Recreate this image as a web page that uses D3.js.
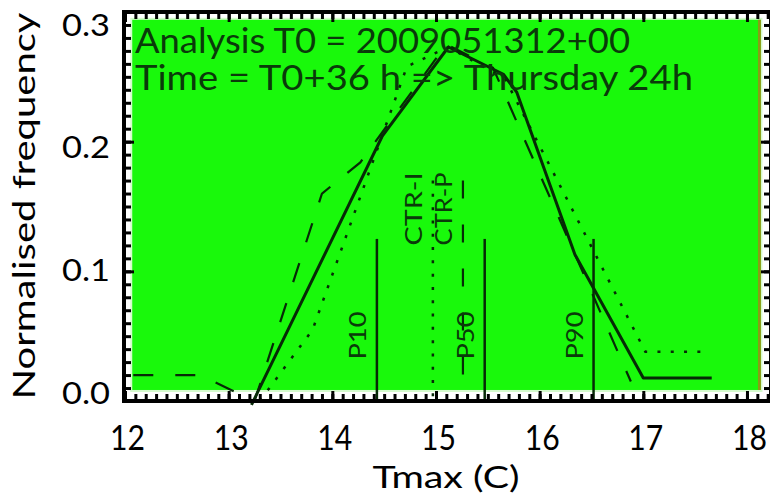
<!DOCTYPE html>
<html>
<head>
<meta charset="utf-8">
<script src="https://cdn.jsdelivr.net/npm/d3@7"></script>
<style>
  body { margin: 0; background: #fff; }
  text { font-family: Lato, "DejaVu Sans", sans-serif; font-weight: 400; }
</style>
</head>
<body>
<svg id="plot" width="770" height="499"></svg>
<script>
// tick values
const xMajor = [12, 13, 14, 15, 16, 17, 18];
const yMajor = [0.0, 0.1, 0.2, 0.3];
const xMinor = d3.range(120, 183).map(d => d / 10);
const yMinor = d3.range(0, 31).map(d => d / 100);

// frequency curves
const solidX = [13.22, 14.48, 15.12, 15.65, 15.78, 16.34, 17.0, 17.66];
const solidY = [-0.003, 0.204, 0.273, 0.252, 0.238, 0.113, 0.0177, 0.0177];
const dashX = [12.08, 12.72, 13.25, 13.9, 14.27, 15.1, 15.55, 16.88];
const dashY = [0.02, 0.02, 0.0, 0.16, 0.184, 0.275, 0.257, 0.015];
const dotX = [13.3, 13.81, 14.72, 15.12, 15.67, 17.02, 17.56];
const dotY = [0.0, 0.055, 0.258, 0.273, 0.248, 0.038, 0.038];

// percentile / control markers
const markNames = ["P10", "CTR-I", "CTR-P", "P50", "P90"];
const markX = [14.43, 14.97, 15.26, 15.47, 16.52];
const markTop = [0.125, 0.17, 0.17, 0.125, 0.125];
const markStyle = ["solid", "dot", "dash", "solid", "solid"];

const infoLines = ["Analysis T0 = 2009051312+00", "Time = T0+36 h => Thursday 24h"];

const svg = d3.select("#plot");
const ink = "#062a06";

const x = d3.scaleLinear().domain([12, 18.2]).range([125, 767.7]);
const y = d3.scaleLinear().domain([0, 0.3]).range([401, 12]);
// tick labels sit a bit inside the frame at the ends
const yLab = d3.scaleLinear().domain([0, 0.3]).range([403, 35]);

// background panel
svg.append("rect")
  .attr("x", x(12.07) - 2).attr("y", y(0.294) - 2)
  .attr("width", x(18.13) - x(12.07) + 4).attr("height", y(0.0085) - y(0.294) + 4)
  .attr("fill", "#d4fbcc");
svg.append("rect")
  .attr("x", x(12.07)).attr("y", y(0.294))
  .attr("width", x(18.13) - x(12.07)).attr("height", y(0.0085) - y(0.294))
  .attr("fill", "#19f90b");
svg.append("line")
  .attr("x1", x(18.13) - 1).attr("x2", x(18.13) - 1)
  .attr("y1", y(0.294)).attr("y2", y(0.0085))
  .attr("stroke", "#8c9c16").attr("stroke-width", 3);

const line = d3.line().x(d => x(d[0])).y(d => y(d[1]));

svg.append("path")
  .datum(d3.zip(dotX, dotY))
  .attr("d", line).attr("fill", "none")
  .attr("stroke", ink).attr("stroke-width", 2.5)
  .attr("stroke-dasharray", "3,10.3");

svg.append("path")
  .datum(d3.zip(dashX, dashY))
  .attr("d", line).attr("fill", "none")
  .attr("stroke", ink).attr("stroke-width", 2.2)
  .attr("stroke-dasharray", "20,22");

svg.append("path")
  .datum(d3.zip(solidX, solidY))
  .attr("d", line).attr("fill", "none")
  .attr("stroke", ink).attr("stroke-width", 3)
  .attr("stroke-linejoin", "round");

// vertical markers + rotated labels
markNames.forEach((name, i) => {
  let v = svg.append("line")
    .attr("x1", x(markX[i])).attr("x2", x(markX[i]))
    .attr("y1", y(markTop[i])).attr("y2", y(0))
    .attr("stroke", ink);
  if (markStyle[i] == "dot") {
    v.attr("stroke-width", 2.5).attr("stroke-dasharray", "3,10.3");
  } else if (markStyle[i] == "dash") {
    v.attr("stroke-width", 2.2).attr("stroke-dasharray", "18,26");
  } else {
    v.attr("stroke-width", 2.5);
  }
  let isP = name[0] == "P";
  let lx = x(markX[i]) - 11;
  let ly = isP ? y(0.032) : y(0.12);
  svg.append("text")
    .text(name)
    .attr("transform", `translate(${lx},${ly}) rotate(-90)`)
    .attr("font-size", 24)
    .attr("fill", "#0a3a0a")
    .attr("textLength", isP ? 48 : 73)
    .attr("lengthAdjust", "spacingAndGlyphs");
});

// header text inside the panel
svg.selectAll("text.info")
  .data(infoLines)
  .join("text")
  .attr("class", "info")
  .attr("x", 135)
  .attr("y", (d, i) => 53 + i * 37)
  .attr("font-size", 34)
  .attr("fill", "#0a3a0a")
  .attr("textLength", (d, i) => i == 0 ? 495 : 558)
  .attr("lengthAdjust", "spacingAndGlyphs")
  .text(d => d);

// frame
svg.append("rect")
  .attr("x", 124).attr("y", y(0.3))
  .attr("width", 647).attr("height", y(0) - y(0.3))
  .attr("fill", "none").attr("stroke", "#000").attr("stroke-width", 4);

function ticks(axis, vals, size, tr) {
  let g = svg.append("g")
    .attr("transform", tr)
    .call(axis.tickValues(vals).tickSize(size).tickFormat(""));
  g.select(".domain").remove();
  g.selectAll("line").attr("stroke", "#000").attr("stroke-width", 3);
}
ticks(d3.axisBottom(x), xMinor, -7, `translate(0,${y(0)})`);
ticks(d3.axisBottom(x), xMajor, -10, `translate(0,${y(0)})`);
ticks(d3.axisTop(x), xMinor, -7, `translate(0,${y(0.3)})`);
ticks(d3.axisTop(x), xMajor, -10, `translate(0,${y(0.3)})`);
ticks(d3.axisLeft(y), yMinor, -7, `translate(124,0)`);
ticks(d3.axisLeft(y), yMajor, -10, `translate(124,0)`);
ticks(d3.axisRight(y), yMinor, -7, `translate(771,0)`);
ticks(d3.axisRight(y), yMajor, -10, `translate(771,0)`);

// tick labels
let xl = svg.append("g")
  .attr("transform", `translate(2,${y(0)})`)
  .call(d3.axisBottom(x).tickValues(xMajor).tickSize(0).tickFormat(d3.format("d")));
xl.select(".domain").remove();
xl.selectAll("text")
  .attr("y", 49).attr("dy", null)
  .attr("font-size", 34).attr("fill", "#000")
  .attr("font-family", null)
  .attr("textLength", 35).attr("lengthAdjust", "spacingAndGlyphs");

let yl = svg.append("g")
  .attr("transform", "translate(110,0)")
  .call(d3.axisLeft(yLab).tickValues(yMajor).tickSize(0).tickFormat(d3.format(".1f")));
yl.select(".domain").remove();
yl.selectAll("text")
  .attr("x", 0).attr("dy", null)
  .attr("font-size", 31).attr("fill", "#000")
  .attr("font-family", null)
  .attr("textLength", 48).attr("lengthAdjust", "spacingAndGlyphs");

// axis titles
svg.append("text")
  .text("Tmax (C)")
  .attr("x", 446).attr("y", 488)
  .attr("text-anchor", "middle")
  .attr("font-size", 31)
  .attr("textLength", 147).attr("lengthAdjust", "spacingAndGlyphs");

svg.append("text")
  .text("Normalised frequency")
  .attr("transform", "translate(35,206) rotate(-90)")
  .attr("text-anchor", "middle")
  .attr("font-size", 31)
  .attr("textLength", 387).attr("lengthAdjust", "spacingAndGlyphs");
</script>
</body>
</html>
